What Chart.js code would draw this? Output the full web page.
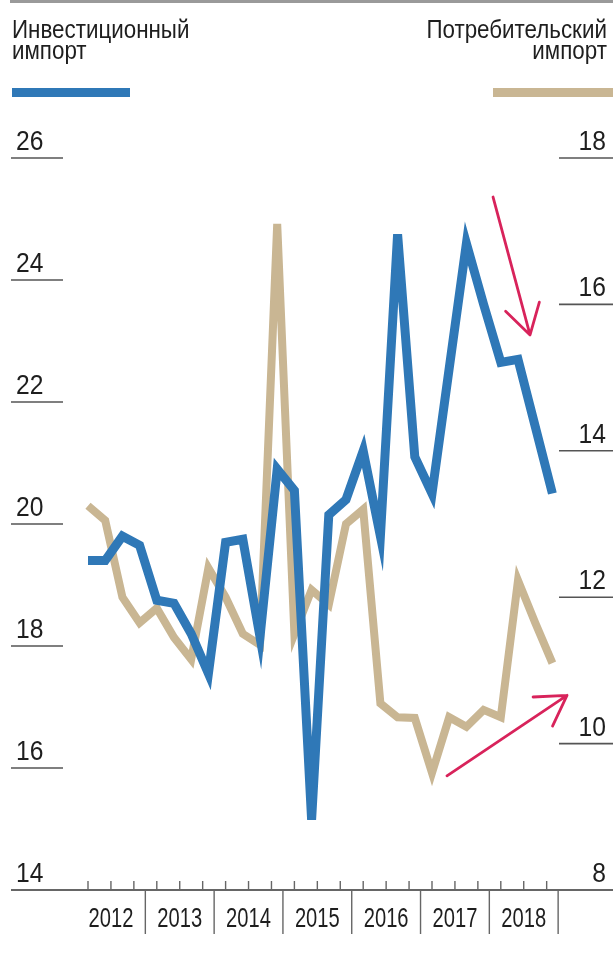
<!DOCTYPE html>
<html><head><meta charset="utf-8">
<script src="https://cdn.jsdelivr.net/npm/chart.js@4.4.1/dist/chart.umd.min.js"></script>
<style>
html,body{margin:0;padding:0;background:#fff;}
#wrap{position:relative;width:613px;height:955px;overflow:hidden;}
canvas{position:absolute;left:0;top:0;}
.leg{position:absolute;font-family:'Liberation Sans',Arial,sans-serif;font-size:26px;line-height:21px;color:#1e1e1e;white-space:nowrap;}
#l1{left:12px;top:19px;transform:scaleX(0.86);transform-origin:0 0;}
#l2{right:6px;top:19px;text-align:right;transform:scaleX(0.86);transform-origin:100% 0;}
.bar{position:absolute;height:9px;top:88px;}
#b1{left:12px;width:118px;background:#2f78b7;}
#b2{left:493px;width:120px;background:#c9b693;}
#topline{position:absolute;left:10px;right:0;top:0;height:3px;background:#9a9a9a;}
</style></head>
<body><div id="wrap">
<canvas id="c" width="613" height="955"></canvas>
<div id="topline"></div>
<div class="leg" id="l1">Инвестиционный<br>импорт</div>
<div class="leg" id="l2">Потребительский<br>импорт</div>
<div class="bar" id="b1"></div><div class="bar" id="b2"></div>
</div>
<script>
const quarters = ['2012 Q1','2012 Q2','2012 Q3','2012 Q4','2013 Q1','2013 Q2','2013 Q3','2013 Q4',
  '2014 Q1','2014 Q2','2014 Q3','2014 Q4','2015 Q1','2015 Q2','2015 Q3','2015 Q4',
  '2016 Q1','2016 Q2','2016 Q3','2016 Q4','2017 Q1','2017 Q2','2017 Q3','2017 Q4',
  '2018 Q1','2018 Q2','2018 Q3','2018 Q4'];
const investImport = [19.4,19.4,19.8,19.65,18.75,18.7,18.2,17.55,19.7,19.75,18.15,20.9,20.55,15.15,
  20.15,20.4,21.2,19.8,24.75,21.1,20.5,22.55,24.6,23.6,22.65,22.7,21.6,20.5];
const consumerImport = [13.25,13.05,12.0,11.65,11.85,11.45,11.15,12.4,12.0,11.5,11.35,17.1,11.5,12.1,
  11.9,13.0,13.2,10.55,10.36,10.35,9.6,10.36,10.23,10.46,10.36,12.23,11.65,11.1];
const leftTicks = [14,16,18,20,22,24,26];
const rightTicks = [8,10,12,14,16,18];
const years = ['2012','2013','2014','2015','2016','2017','2018'];
const minorPerYear = 3;
// annotation arrows: [quarter index, value] on left / right axis
const arrowDown = {axis:'yL', from:[23.55,25.36], to:[25.7,23.1]};
const arrowUp = {axis:'yR', from:[20.87,9.56], to:[27.85,10.66]};

function condText(ctx, t, x, y, sx, align){
  ctx.save(); ctx.translate(x,y); ctx.scale(sx,1); ctx.textAlign=align; ctx.fillText(t,0,0); ctx.restore();
}
const axisPlugin = {
  id:'axisDraw',
  beforeDatasetsDraw(chart){
    const ctx=chart.ctx, yL=chart.scales.yL, yR=chart.scales.yR, yr=chart.scales.yr;
    const base=yL.getPixelForValue(14);
    ctx.save();
    ctx.strokeStyle='#555'; ctx.fillStyle='#1e1e1e'; ctx.lineWidth=1.6;
    ctx.font='28px "Liberation Sans", Arial, sans-serif'; ctx.textBaseline='alphabetic';
    leftTicks.forEach(v=>{
      const y=yL.getPixelForValue(v);
      if(v!==14){ctx.beginPath();ctx.moveTo(11,y);ctx.lineTo(63,y);ctx.stroke();}
      condText(ctx,String(v),16,y-8,0.88,'left');
    });
    rightTicks.forEach(v=>{
      const y=yR.getPixelForValue(v);
      if(v!==8){ctx.beginPath();ctx.moveTo(559,y);ctx.lineTo(613,y);ctx.stroke();}
      condText(ctx,String(v),606,y-8,0.88,'right');
    });
    ctx.lineWidth=2; ctx.strokeStyle='#666';
    ctx.beginPath();ctx.moveTo(11,base);ctx.lineTo(613,base);ctx.stroke();
    ctx.lineWidth=1.4;
    const y0=Number(years[0]);
    for(let k=0;k<years.length*minorPerYear;k++){
      const x=yr.getPixelForValue(y0+(k+0.5)/minorPerYear);
      ctx.beginPath();ctx.moveTo(x,base-9);ctx.lineTo(x,base);ctx.stroke();
    }
    ctx.font='28px "Liberation Sans", Arial, sans-serif';
    years.forEach((t)=>{
      const yv=Number(t);
      const xs=yr.getPixelForValue(yv+1);
      ctx.beginPath();ctx.moveTo(xs,base);ctx.lineTo(xs,base+44);ctx.stroke();
      condText(ctx,t,yr.getPixelForValue(yv+0.5),base+37,0.72,'center');
    });
    ctx.restore();
  },
  afterDatasetsDraw(chart){
    const ctx=chart.ctx, x=chart.scales.x;
    ctx.save();
    ctx.strokeStyle='#d8235b'; ctx.lineWidth=2.8; ctx.lineCap='round'; ctx.lineJoin='round';
    [arrowDown,arrowUp].forEach(a=>{
      const ys=chart.scales[a.axis];
      const x1=x.getPixelForValue(a.from[0]), y1=ys.getPixelForValue(a.from[1]);
      const x2=x.getPixelForValue(a.to[0]), y2=ys.getPixelForValue(a.to[1]);
      const ang=Math.atan2(y2-y1,x2-x1), L=34, w=0.54;
      ctx.beginPath();ctx.moveTo(x1,y1);ctx.lineTo(x2,y2);
      ctx.moveTo(x2-L*Math.cos(ang-w),y2-L*Math.sin(ang-w));ctx.lineTo(x2,y2);
      ctx.lineTo(x2-L*Math.cos(ang+w),y2-L*Math.sin(ang+w));
      ctx.stroke();
    });
    ctx.restore();
  }
};

new Chart(document.getElementById('c'),{
  type:'line',
  data:{labels:quarters,datasets:[
    {label:'Инвестиционный импорт',data:investImport,yAxisID:'yL',borderColor:'#2f78b7',borderWidth:9,
     pointRadius:0,tension:0,borderJoinStyle:'miter',borderCapStyle:'butt'},
    {label:'Потребительский импорт',data:consumerImport,yAxisID:'yR',borderColor:'#c9b693',borderWidth:8,
     pointRadius:0,tension:0,borderJoinStyle:'miter',borderCapStyle:'butt'}
  ]},
  options:{
    responsive:false,animation:false,devicePixelRatio:1,
    layout:{padding:{left:88,right:60.6,top:158,bottom:65}},
    plugins:{legend:{display:false},tooltip:{enabled:false}},
    scales:{
      x:{type:'category',display:false,offset:false},
      yr:{type:'linear',axis:'x',display:false,min:2012+1/6,max:2018+11/12},
      yL:{type:'linear',position:'left',display:false,min:14,max:26},
      yR:{type:'linear',position:'right',display:false,min:8,max:18}
    }
  },
  plugins:[axisPlugin]
});
</script>
</body></html>
